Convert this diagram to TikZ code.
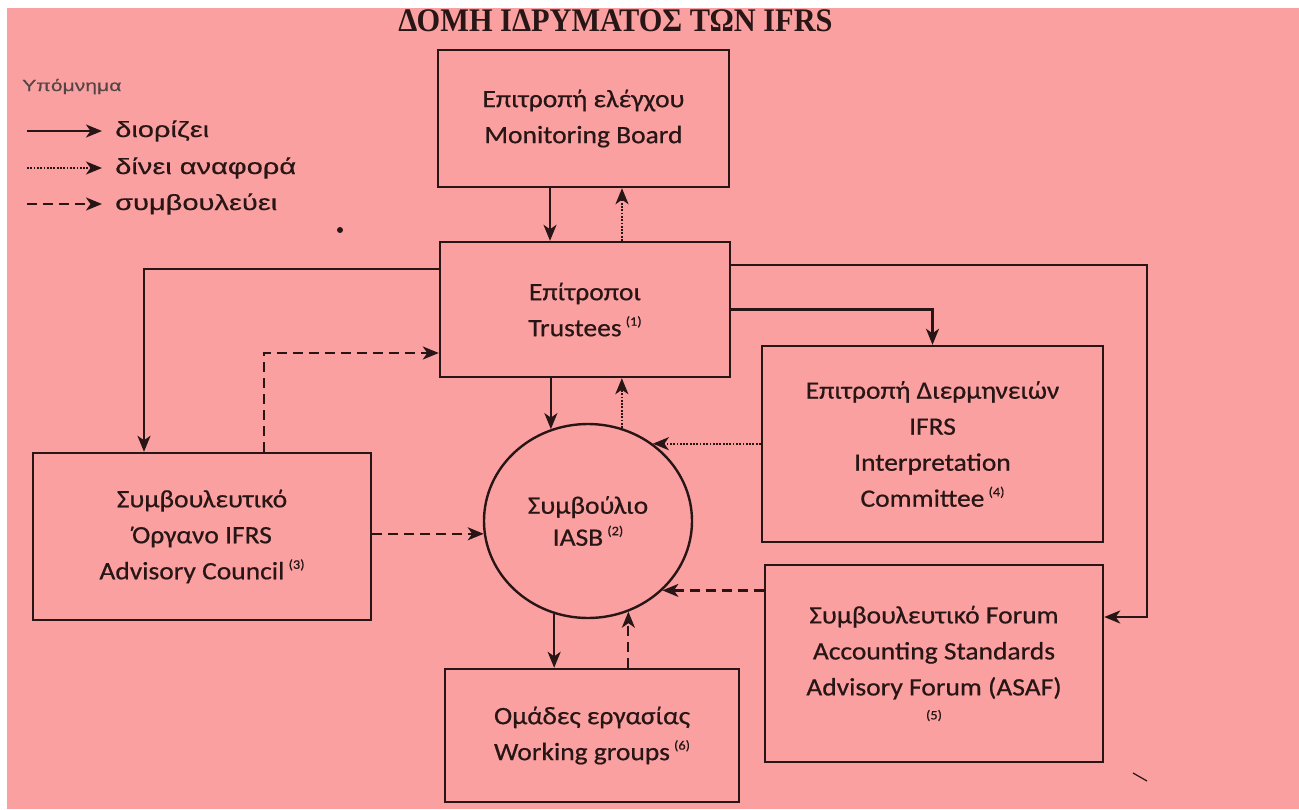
\documentclass[tikz,border=0pt]{standalone}
\usepackage{fontspec}
\setmainfont{Carlito}[FakeStretch=1.1,FakeBold=0.6]
\newfontfamily\legfont{Liberation Sans}[FakeStretch=1.32,FakeBold=0.4]
\newfontfamily\headfont{Liberation Serif}[FakeStretch=0.92]
\usetikzlibrary{arrows.meta,shapes.geometric}
\definecolor{scanpink}{RGB}{251,160,160}
\definecolor{ink}{RGB}{40,22,22}
\newcommand\nref[1]{\,\raisebox{.42em}{\fontsize{13}{13}\selectfont(#1)}}
\begin{document}
\begin{tikzpicture}[x=1pt,y=-1pt,
  box/.style n args={2}{draw=ink,line width=2.4pt,minimum width=#1,minimum height=#2,align=center,inner sep=0pt,text=ink,font=\fontsize{25}{36}\selectfont},
  board/.style={ellipse,draw=ink,line width=2.4pt,minimum width=208pt,minimum height=194pt,inner sep=0pt,align=center,text=ink,font=\fontsize{25}{32}\selectfont},
  link/.style={draw=ink,line width=2.2pt,-{Stealth[length=16pt,width=13pt,inset=4.5pt]}},
  appoint/.style={link},
  report/.style={link,dash pattern=on 1.8pt off 1.5pt},
  advise/.style={link,dash pattern=on 10pt off 6pt},
  keyhead/.style={font=\legfont\fontsize{16}{16}\selectfont,text=ink!80,inner sep=0pt,anchor=base west},
  keyitem/.style={font=\legfont\fontsize{22}{22}\selectfont,text=ink,inner sep=0pt,text height=16pt,text depth=4pt,anchor=base west}]
\useasboundingbox (0,0) rectangle (1299,809);
\fill[white] (0,0) rectangle (1299,809);
\fill[scanpink] (7,8) rectangle (1299,809);
\node[anchor=base,font=\headfont\bfseries\fontsize{33}{33}\selectfont,text=ink,inner sep=0pt] (title) at (615.5,31) {ΔΟΜΗ ΙΔΡΥΜΑΤΟΣ ΤΩΝ IFRS};
\fill[white] (0,0) rectangle (1299,8);
\node[keyhead] (key) at (22,91) {Υπόμνημα};
\node[keyitem] (k1) at (115,137) {διορίζει};
\node[keyitem] (k2) at (115,174) {δίνει αναφορά};
\node[keyitem] (k3) at (115,210) {συμβουλεύει};
\draw[appoint] ([xshift=-88pt]k1.west) -- ([xshift=-13pt]k1.west);
\draw[report] ([xshift=-88pt]k2.west) -- ([xshift=-13pt]k2.west);
\draw[advise] ([xshift=-88pt]k3.west) -- ([xshift=-13pt]k3.west);
\node[box={291pt}{137pt}] (mon) at (583.5,118.5) {Επιτροπή ελέγχου\\Monitoring Board};
\node[box={290pt}{135pt}] (tru) at (585,309.5) {Επίτροποι\\Trustees\nref{1}};
\node[board] (iasb) at (588,521) {Συμβούλιο\\IASB\nref{2}};
\node[box={341pt}{196pt}] (interp) at (932.5,444) {Επιτροπή Διερμηνειών\\IFRS\\Interpretation\\Committee\nref{4}};
\node[box={338pt}{197pt}] (forum) at (934,663.5) {Συμβουλευτικό Forum\\Accounting Standards\\Advisory Forum (ASAF)\\[-12pt]{\fontsize{13}{13}\selectfont(5)}};
\node[box={294pt}{133pt}] (work) at (592,735.5) {Ομάδες εργασίας\\Working groups\nref{6}};
\node[box={338pt}{167pt}] (adv) at (202,536.5) {Συμβουλευτικό\\Όργανο IFRS\\Advisory Council\nref{3}};
\draw[appoint] ([xshift=-33.5pt]mon.south) -- ([xshift=-33.5pt]mon.south |- tru.north);
\draw[report] ([xshift=37pt]tru.north) -- ([xshift=37pt]tru.north |- mon.south);
\draw[appoint] (iasb.112 |- tru.south) -- (iasb.112);
\draw[report] (iasb.70) -- (iasb.70 |- tru.south);
\draw[report] (iasb.50 -| interp.west) -- (iasb.50);
\draw[advise] (iasb.-43 -| forum.west) -- (iasb.-43);
\draw[advise] (iasb.187 -| adv.east) -- (iasb.187);
\draw[appoint] (iasb.-110) -- (iasb.-110 |- work.north);
\draw[advise] (iasb.-66 |- work.north) -- (iasb.-66);
\draw[appoint] ([yshift=40.5pt]tru.west) -| ([xshift=-58pt]adv.north);
\draw[advise] ([xshift=62pt]adv.north) |- ([yshift=-43.5pt]tru.west);
\draw[appoint] (tru.east) -| (interp.north);
\coordinate (fbend) at (1147,617);
\draw[appoint] ([yshift=44.5pt]tru.east) -| (fbend) -- (fbend -| forum.east);
\fill[ink] (340,230) circle (3);
\draw[ink,line width=1.2pt] (1133,773) -- (1147,781);
\end{tikzpicture}
\end{document}
